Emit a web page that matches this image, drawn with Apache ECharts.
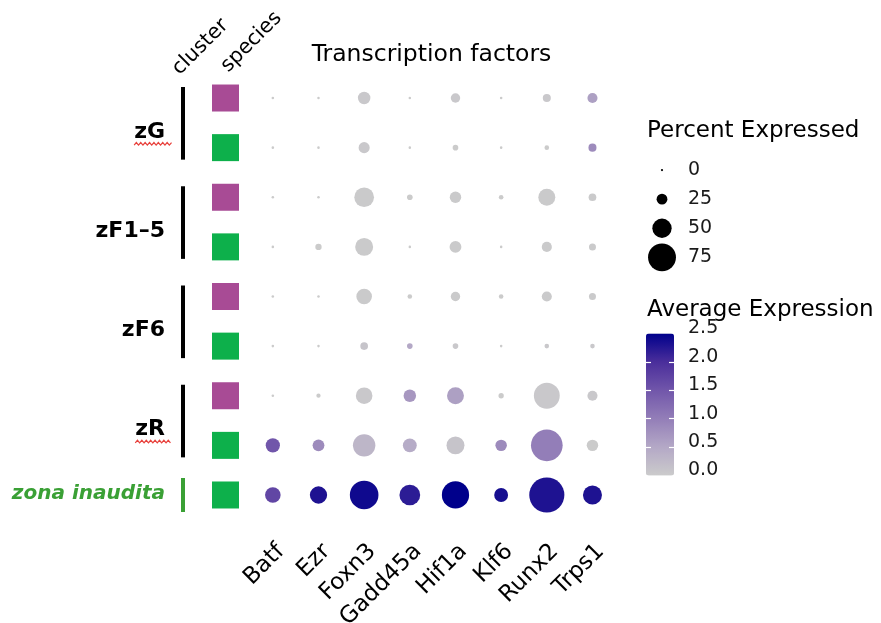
<!DOCTYPE html>
<html>
<head>
<meta charset="utf-8">
<script src="https://cdn.jsdelivr.net/npm/echarts@6/dist/echarts.min.js"></script>
<style>
  html, body { margin: 0; padding: 0; background: #ffffff; }
  #chart { width: 881px; height: 623px; }
</style>
</head>
<body>
<div id="chart"></div>
<script>
// Genes shown as columns
const genes = ['Batf', 'Ezr', 'Foxn3', 'Gadd45a', 'Hif1a', 'Klf6', 'Runx2', 'Trps1'];

// Clusters and the rows that belong to each (top to bottom)
const clusters = ['zG', 'zF1–5', 'zF6', 'zR', 'zona inaudita'];
const rowCluster = [0, 0, 1, 1, 2, 2, 3, 3, 4];
const rowSpecies = [0, 1, 0, 1, 0, 1, 0, 1, 1];
const speciesColors = ['#A84B95', '#0DB04B'];

// Percent of cells expressing each gene (rows x genes)
const pctExpressed = [
  [1, 1, 30, 1, 21, 1, 17, 23],
  [1, 1, 26, 1, 10, 1, 7, 17],
  [1, 1, 51, 10, 27, 7, 43, 16],
  [1, 12, 46, 1, 28, 1, 23, 14],
  [1, 1, 39, 7, 21, 7, 23, 14],
  [1, 1, 16, 10, 10, 1, 7, 7],
  [1, 6, 42, 30, 43, 9, 69, 23],
  [35, 28, 59, 34, 46, 27, 86, 27],
  [39, 44, 77, 54, 73, 34, 96, 49]
];

// Average scaled expression (rows x genes)
const avgExpression = [
  [0, 0, 0.05, 0, 0.05, 0, 0.05, 0.6],
  [0, 0, 0.05, 0, 0, 0, 0, 0.85],
  [0, 0, 0.02, 0, 0.02, 0, 0.02, 0.02],
  [0, 0, 0.02, 0, 0.02, 0, 0.02, 0.02],
  [0, 0, 0.02, 0, 0.02, 0, 0.02, 0.02],
  [0, 0, 0.1, 0.5, 0.05, 0, 0.05, 0.05],
  [0, 0, 0.05, 0.7, 0.6, 0, 0.05, 0.05],
  [1.5, 0.85, 0.3, 0.45, 0.1, 0.85, 1.0, 0],
  [1.7, 2.3, 2.4, 2.2, 2.5, 2.35, 2.3, 2.3]
];

// Legend breaks
const sizeBreaks = [0, 25, 50, 75];
const colorTicks = [0.5, 1.0, 1.5, 2.0];

// ---- layout & style ----
const FONT = '"DejaVu Sans", sans-serif';
const gridTop = 73.2, gridHeight = 446.6;
const rowKeys = rowCluster.map((c, i) => 'row' + i);
const barX = 183, speciesX = 225.5;
const squiggleFor = [0, 3];

const dotData = [];
pctExpressed.forEach((row, r) => {
  row.forEach((p, g) => dotData.push([g, r, p, avgExpression[r][g]]));
});

const speciesData = rowSpecies.map((s, r) => ({
  value: [speciesX, r],
  itemStyle: { color: speciesColors[s] }
}));

const clusterSpans = clusters.map((name, ci) => {
  const idx = rowCluster.map((c, i) => c === ci ? i : -1).filter(i => i >= 0);
  return [ci, idx[0], idx[idx.length - 1]];
});

const measureCtx = document.createElement('canvas').getContext('2d');
function textWidth(text, font) { measureCtx.font = font; return measureCtx.measureText(text).width; }

function renderCluster(params, api) {
  const ci = api.value(0), first = api.value(1), last = api.value(2);
  const pTop = api.coord([barX, first]);
  const pBot = api.coord([barX, last]);
  const single = first === last;
  const y0 = single ? pTop[1] - 17 : pTop[1] - 11;
  const y1 = single ? pBot[1] + 17 : pBot[1] + 12;
  const special = ci === clusters.length - 1;
  const color = special ? '#3AA035' : '#000000';
  const font = (special ? 'italic bold 20px ' : 'bold 22px ') + FONT;
  const labelRight = pTop[0] - 18;
  const labelY = (pTop[1] + pBot[1]) / 2 + (single ? -1 : 9);
  const children = [
    { type: 'rect', shape: { x: pTop[0] - 2, y: y0, width: 4, height: y1 - y0 }, style: { fill: color } },
    { type: 'text', x: labelRight, y: labelY,
      style: { text: clusters[ci], font: font, fill: color, align: 'right', verticalAlign: 'middle' } }
  ];
  if (squiggleFor.indexOf(ci) >= 0) {
    const w = textWidth(clusters[ci], font);
    const pts = [];
    const xs = labelRight - w, xe = labelRight + 7, yb = labelY + 12;
    let k = 0;
    for (let x = xs; x <= xe; x += 2.2, k++) pts.push([x, yb + (k % 2 ? -1.3 : 1.3)]);
    children.push({ type: 'polyline', shape: { points: pts }, style: { stroke: '#E8413C', lineWidth: 1.2, fill: null } });
  }
  return { type: 'group', children: children };
}

const chart = echarts.init(document.getElementById('chart'), null, { renderer: 'canvas' });

chart.setOption({
  animation: false,
  backgroundColor: '#ffffff',
  textStyle: { fontFamily: FONT },
  grid: [
    { left: 250, top: gridTop, width: 365.3, height: gridHeight, outerBoundsMode: 'none', containLabel: false },
    { left: 0, top: gridTop, width: 250, height: gridHeight, outerBoundsMode: 'none', containLabel: false },
    { left: 647, top: 155.5, width: 30, height: 116.4, outerBoundsMode: 'none', containLabel: false },
    { left: 646, top: 333.5, width: 28, height: 142, outerBoundsMode: 'none', containLabel: false }
  ],
  xAxis: [
    { gridIndex: 0, type: 'category', data: genes, boundaryGap: true,
      axisLine: { show: false }, axisTick: { show: false }, splitLine: { show: false },
      axisLabel: { rotate: 45, fontSize: 23, color: '#000000', margin: 20, fontFamily: FONT,
        verticalAlign: 'top' } },
    { gridIndex: 1, type: 'value', min: 0, max: 250, show: false },
    { gridIndex: 2, type: 'value', min: 0, max: 1, show: false },
    { gridIndex: 3, type: 'value', min: 0, max: 1, show: false }
  ],
  yAxis: [
    { gridIndex: 0, type: 'category', data: rowKeys, inverse: true, show: false },
    { gridIndex: 1, type: 'category', data: rowKeys, inverse: true, show: false },
    { gridIndex: 2, type: 'category', data: sizeBreaks.map(String), inverse: true, position: 'right',
      axisLine: { show: false }, axisTick: { show: false }, splitLine: { show: false },
      axisLabel: { fontSize: 19, color: '#1a1a1a', margin: 11, fontFamily: FONT } },
    { gridIndex: 3, type: 'value', min: 0, max: 2.5, interval: 0.5, position: 'left', z: 10,
      axisLine: { show: false }, splitLine: { show: false }, axisLabel: { show: false },
      axisTick: { inside: true, length: 5, customValues: colorTicks, lineStyle: { color: '#ffffff', width: 1.2 } } },
    { gridIndex: 3, type: 'value', min: 0, max: 2.5, interval: 0.5, position: 'right', z: 10,
      axisLine: { show: false }, splitLine: { show: false },
      axisTick: { inside: true, length: 5, customValues: colorTicks, lineStyle: { color: '#ffffff', width: 1.2 } },
      axisLabel: { fontSize: 19, color: '#1a1a1a', margin: 14, fontFamily: FONT,
        verticalAlign: 'bottom', lineHeight: 10,
        formatter: v => v.toFixed(1) } }
  ],
  visualMap: [
    { type: 'continuous', seriesIndex: [0, 3], dimension: 2, min: 0, max: 100,
      inRange: { symbolSize: [2.2, 36.5] }, show: false },
    { type: 'continuous', seriesIndex: 0, dimension: 3, min: 0, max: 2.5,
      inRange: { color: ['#CBCBCB', '#B4A8C6', '#937EB8', '#7156AA', '#4A2E9B', '#00008B'] },
      orient: 'vertical', left: 646, top: 333.5, itemWidth: 28, itemHeight: 142,
      padding: 0, text: null, calculable: false, hoverLink: false, showLabel: false,
      textStyle: { color: 'transparent' } }
  ],
  series: [
    { type: 'scatter', xAxisIndex: 0, yAxisIndex: 0, data: dotData, symbol: 'circle',
      itemStyle: { opacity: 1 }, emphasis: { disabled: true }, z: 3 },
    { type: 'scatter', xAxisIndex: 1, yAxisIndex: 1, data: speciesData, symbol: 'rect',
      symbolSize: 27, itemStyle: { opacity: 1 }, emphasis: { disabled: true } },
    { type: 'custom', xAxisIndex: 1, yAxisIndex: 1, data: clusterSpans, renderItem: renderCluster },
    { type: 'scatter', xAxisIndex: 2, yAxisIndex: 2, symbol: 'circle',
      data: sizeBreaks.map((v, i) => [0.5, i, v]),
      itemStyle: { color: '#000000', opacity: 1 }, emphasis: { disabled: true } }
  ],
  graphic: [
    { type: 'text', x: 431.5, y: 55, style: { text: 'Transcription factors', font: '23.5px ' + FONT,
      fill: '#000000', align: 'center', verticalAlign: 'middle' } },
    { type: 'text', x: 200.5, y: 47, rotation: Math.PI / 4, style: { text: 'cluster', font: '20.5px ' + FONT,
      fill: '#000000', align: 'center', verticalAlign: 'middle' } },
    { type: 'text', x: 251.5, y: 42, rotation: Math.PI / 4, style: { text: 'species', font: '20.5px ' + FONT,
      fill: '#000000', align: 'center', verticalAlign: 'middle' } },
    { type: 'text', x: 647, y: 131, style: { text: 'Percent Expressed', font: '23px ' + FONT,
      fill: '#000000', align: 'left', verticalAlign: 'middle' } },
    { type: 'text', x: 647, y: 310, style: { text: 'Average Expression', font: '23px ' + FONT,
      fill: '#000000', align: 'left', verticalAlign: 'middle' } }
  ]
});
</script>
</body>
</html>
